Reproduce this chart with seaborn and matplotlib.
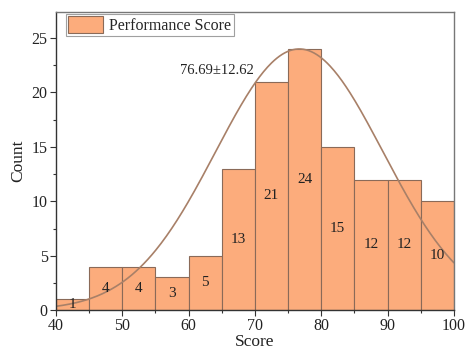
import numpy as np
import pandas as pd
import matplotlib
matplotlib.use("Agg")
import matplotlib.pyplot as plt
import seaborn as sns
from matplotlib.ticker import MultipleLocator

# Histogram bins (score ranges) and their counts
bin_edges = [40, 45, 50, 55, 60, 65, 70, 75, 80, 85, 90, 95, 100]
counts = [1, 4, 4, 3, 5, 13, 21, 24, 15, 12, 12, 10]

# Fitted normal curve parameters
fit_mean = 76.69
fit_sd = 12.62
fit_peak = 24.0

sns.set_style("ticks")
plt.rcParams["font.family"] = ["Liberation Serif", "DejaVu Serif"]
plt.rcParams["mathtext.fontset"] = "stix"

centers = [(a + b) / 2 for a, b in zip(bin_edges[:-1], bin_edges[1:])]
df = pd.DataFrame({"Score": centers, "Count": counts})

fig = plt.figure(figsize=(4.68, 3.52), dpi=100)
ax = fig.add_axes([0.1197, 0.119, 0.850, 0.847])

bar_color = "#FCAC7C"
edge_color = "#8A6A58"
sns.histplot(data=df, x="Score", weights="Count", bins=bin_edges,
             color=bar_color, alpha=1.0, edgecolor=edge_color, linewidth=0.8,
             ax=ax, label="Performance Score")

# Normal curve
xs = np.linspace(40, 100, 300)
ys = fit_peak * np.exp(-0.5 * ((xs - fit_mean) / fit_sd) ** 2)
sns.lineplot(x=xs, y=ys, color="#A88068", linewidth=1.2, ax=ax)

# Count labels centered in each bar
for c, n in zip(centers, counts):
    ax.text(c, n / 2, str(n), ha="center", va="center", fontsize=11, color="#222222")

ax.text(64.2, 22.05, f"{fit_mean:.2f}±{fit_sd:.2f}", ha="center", va="center",
        fontsize=10.5, color="#222222")

ax.set_xlim(40, 100)
ax.set_ylim(0, 27.4)
ax.xaxis.set_major_locator(MultipleLocator(10))
ax.xaxis.set_minor_locator(MultipleLocator(5))
ax.yaxis.set_major_locator(MultipleLocator(5))
ax.yaxis.set_minor_locator(MultipleLocator(2.5))
ax.tick_params(axis="both", which="major", length=4, width=0.8, labelsize=11.5,
               color="#333333", labelcolor="#222222", pad=2)
ax.tick_params(axis="both", which="minor", length=2.5, width=0.8, color="#333333")
ax.set_xlabel("Score", fontsize=12.5, labelpad=0, color="#222222")
ax.set_ylabel("Count", fontsize=12.5, labelpad=4, color="#222222")

for side in ["left", "bottom"]:
    ax.spines[side].set_color("#333333")
    ax.spines[side].set_linewidth(1.0)
for side in ["top", "right"]:
    ax.spines[side].set_visible(True)
    ax.spines[side].set_color("#777777")
    ax.spines[side].set_linewidth(1.0)

handles, labels = ax.get_legend_handles_labels()
leg = ax.legend(handles=[h for h, l in zip(handles, labels) if l == "Performance Score"][:1],
                labels=["Performance Score"], loc="upper left",
                bbox_to_anchor=(0.02, 1.0), fontsize=11.5, frameon=True, fancybox=False,
                edgecolor="#888888", borderpad=0.15, handlelength=2.2, handleheight=1.25,
                handletextpad=0.4, borderaxespad=0.1)
leg.get_frame().set_linewidth(0.8)

fig.savefig("out.png", dpi=100)
